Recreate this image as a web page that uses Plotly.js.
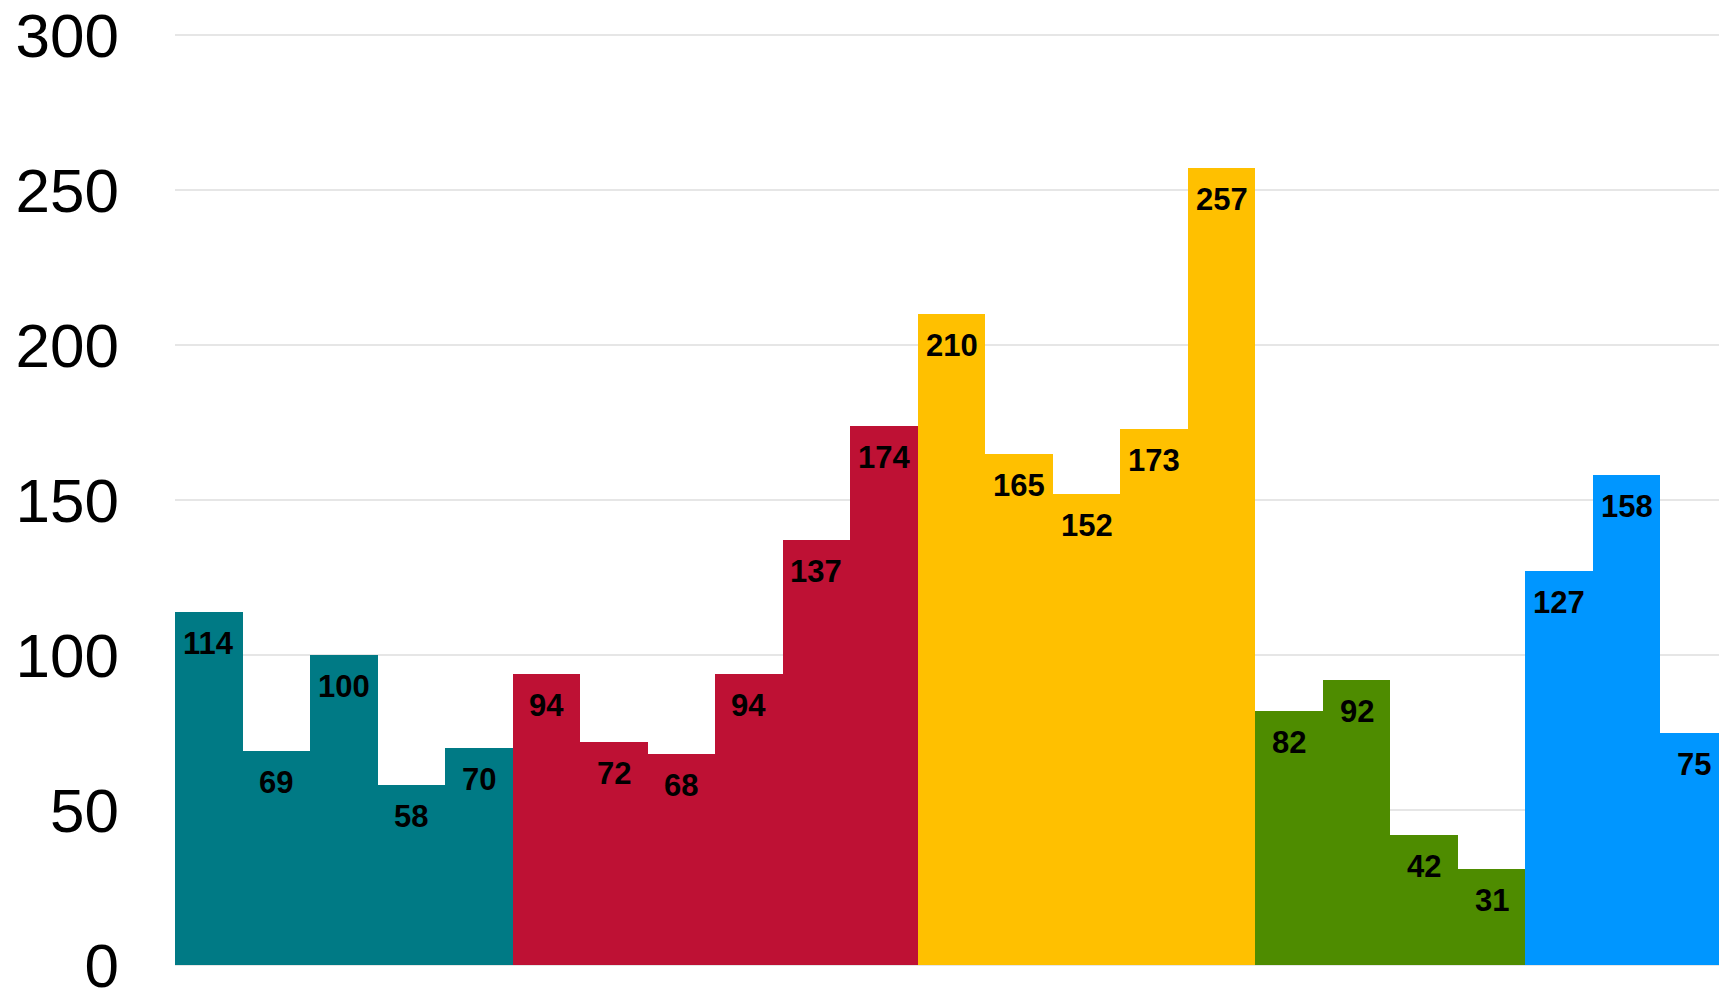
<!DOCTYPE html>
<html>
<head>
<meta charset="utf-8">
<script src="https://cdn.plot.ly/plotly-3.0.1.min.js"></script>
<style>
html,body{margin:0;padding:0;overflow:hidden;background:#fff;}
#chart{width:1740px;height:990px;}
</style>
</head>
<body>
<div id="chart"></div>
<script>
const categories = ["1","2","3","4","5","6","7","8","9","10","11","12","13","14","15","16","17","18","19","20","21","22","23"];
const values = [114, 69, 100, 58, 70, 94, 72, 68, 94, 137, 174, 210, 165, 152, 173, 257, 82, 92, 42, 31, 127, 158, 75];
const groups = ["A","A","A","A","A","B","B","B","B","B","B","C","C","C","C","C","D","D","D","D","E","E","E"];
const groupColors = {A:"#007A85", B:"#BE1134", C:"#FFC000", D:"#4E8C00", E:"#0096FF"};
const yTicks = [0, 50, 100, 150, 200, 250, 300];

const trace = {
  type: "bar",
  x: categories,
  y: values,
  marker: {color: groups.map(g => groupColors[g]), line: {width: 0}},
  hoverinfo: "none"
};

const annotations = categories.map((c, i) => ({
  x: c, y: values[i], xref: "x", yref: "y",
  text: String(values[i]),
  showarrow: false,
  yanchor: "top",
  yshift: -12,
  font: {family: "Liberation Sans, Arial, sans-serif", size: 31, color: "#000", weight: "bold"}
}));

const layout = {
  width: 1740, height: 990,
  margin: {l: 175, r: 12, t: 32, b: 23, pad: 0},
  paper_bgcolor: "#fff", plot_bgcolor: "#fff",
  bargap: 0,
  showlegend: false,
  font: {family: "Liberation Sans, Arial, sans-serif", color: "#000"},
  xaxis: {showticklabels: false, showgrid: false, zeroline: false, showline: false, ticks: ""},
  yaxis: {
    range: [-0.6, 301], tickvals: yTicks, ticktext: yTicks.map(String),
    showgrid: true, gridcolor: "#e6e6e6", gridwidth: 2,
    zeroline: true, zerolinecolor: "#e6e6e6", zerolinewidth: 2,
    showline: false, ticks: "",
    ticklabelstandoff: 55,
    ticklabeloverflow: "allow",
    tickfont: {size: 62, color: "#000", family: "Liberation Sans, Arial, sans-serif"}
  },
  annotations: annotations
};

Plotly.newPlot("chart", [trace], layout, {staticPlot: true, displayModeBar: false});
</script>
</body>
</html>
